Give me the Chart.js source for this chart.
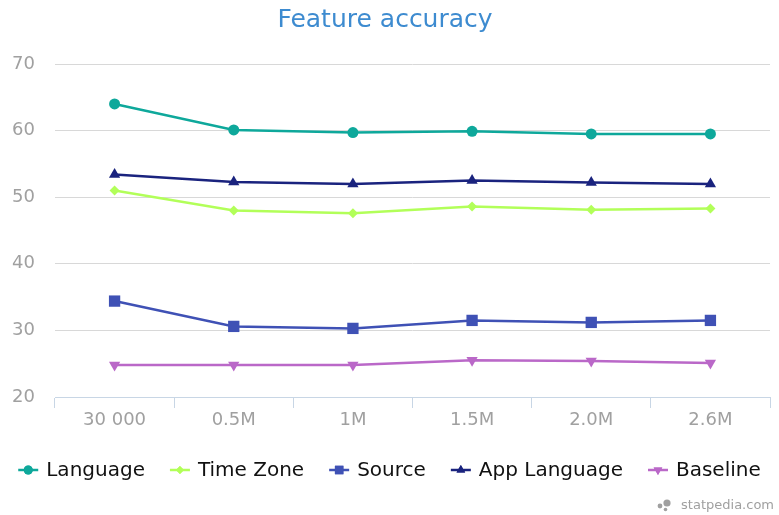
<!DOCTYPE html>
<html>
<head>
<meta charset="utf-8">
<script src="https://cdn.jsdelivr.net/npm/chart.js@4"></script>
<style>
  html, body { margin: 0; padding: 0; background: #ffffff; }
  #wrap { width: 779px; height: 515px; }
</style>
</head>
<body>
<div id="wrap"><canvas id="c" width="779" height="515"></canvas></div>
<script>
const categories = ['30 000', '0.5M', '1M', '1.5M', '2.0M', '2.6M'];
const seriesNames = ['Language', 'Time Zone', 'Source', 'App Language', 'Baseline'];
const language = [64.0, 60.1, 59.7, 59.9, 59.5, 59.5];
const timeZone = [51.0, 48.0, 47.6, 48.6, 48.1, 48.3];
const source = [34.4, 30.6, 30.3, 31.5, 31.2, 31.5];
const appLanguage = [53.4, 52.3, 52.0, 52.5, 52.2, 52.0];
const baseline = [24.8, 24.8, 24.8, 25.5, 25.4, 25.1];
const yTicks = [20, 30, 40, 50, 60, 70];

const FONT = "'DejaVu Sans', Verdana, sans-serif";

const styles = [
  { color: '#0ea89b', pointStyle: 'circle', radius: 5.5, rotation: 0, legendRadius: 4.5 },
  { color: '#b2ff59', pointStyle: 'rectRot', radius: 5, rotation: 0, legendRadius: 4 },
  { color: '#3f51b5', pointStyle: 'rect', radius: 8, rotation: 0, legendRadius: 6 },
  { color: '#1a237e', pointStyle: 'triangle', radius: 6.5, rotation: 0, legendRadius: 5 },
  { color: '#ba68c8', pointStyle: 'triangle', radius: 6.5, rotation: 180, legendRadius: 5 }
];
const seriesData = [language, timeZone, source, appLanguage, baseline];

const datasets = seriesNames.map((name, i) => ({
  label: name,
  data: seriesData[i],
  borderColor: styles[i].color,
  backgroundColor: styles[i].color,
  pointBackgroundColor: styles[i].color,
  pointBorderColor: styles[i].color,
  pointBorderWidth: 0,
  pointStyle: styles[i].pointStyle,
  pointRadius: styles[i].radius,
  pointRotation: styles[i].rotation,
  pointHoverRadius: styles[i].radius,
  borderWidth: 2.5,
  tension: 0,
  fill: false
}));

// Legend drawn from the datasets (line + marker icon, then label)
const lineLegend = {
  id: 'lineLegend',
  afterDraw(chart) {
    const ctx = chart.ctx;
    const iconW = 20, gap = 8, spacing = 25, cy = 470;
    ctx.save();
    ctx.font = '20px ' + FONT;
    const widths = chart.data.datasets.map(ds => ctx.measureText(ds.label).width);
    const total = widths.reduce((a, w) => a + iconW + gap + w, 0) + spacing * (widths.length - 1);
    let x = (chart.width - total) / 2;
    chart.data.datasets.forEach((ds, i) => {
      const st = styles[i];
      ctx.strokeStyle = st.color;
      ctx.lineWidth = 2.5;
      ctx.beginPath(); ctx.moveTo(x, cy); ctx.lineTo(x + iconW, cy); ctx.stroke();
      ctx.fillStyle = st.color;
      Chart.helpers.drawPoint(ctx, { pointStyle: st.pointStyle, radius: st.legendRadius, rotation: st.rotation, borderWidth: 0 }, x + iconW / 2, cy);
      ctx.fill();
      ctx.fillStyle = '#111111';
      ctx.textAlign = 'left';
      ctx.textBaseline = 'middle';
      ctx.fillText(ds.label, x + iconW + gap, cy + 1);
      x += iconW + gap + widths[i] + spacing;
    });
    ctx.restore();
  }
};

const watermark = {
  id: 'watermark',
  afterDraw(chart) {
    const ctx = chart.ctx;
    ctx.save();
    ctx.fillStyle = '#a0a0a0';
    ctx.beginPath(); ctx.arc(667, 503, 3.6, 0, Math.PI * 2); ctx.fill();
    ctx.beginPath(); ctx.arc(660, 506, 2.4, 0, Math.PI * 2); ctx.fill();
    ctx.beginPath(); ctx.arc(665.5, 509.5, 1.8, 0, Math.PI * 2); ctx.fill();
    ctx.font = '13px ' + FONT;
    ctx.textAlign = 'right';
    ctx.textBaseline = 'middle';
    ctx.fillText('statpedia.com', 774, 506);
    ctx.restore();
  }
};

new Chart(document.getElementById('c'), {
  type: 'line',
  data: { labels: categories, datasets },
  plugins: [lineLegend, watermark],
  options: {
    responsive: false,
    animation: false,
    layout: { padding: { left: 0, right: 9, top: 0, bottom: 72 } },
    plugins: {
      title: {
        display: true,
        text: 'Feature accuracy',
        color: '#3d8bd0',
        font: { family: FONT, size: 25, weight: 'normal' },
        padding: { top: 5, bottom: 29 }
      },
      legend: { display: false },
      tooltip: { enabled: false }
    },
    scales: {
      x: {
        offset: true,
        grid: {
          offset: true,
          drawOnChartArea: false,
          drawTicks: true,
          tickLength: 11,
          color: '#c8d6e5',
          lineWidth: 1
        },
        border: { display: true, color: '#c8d6e5', width: 1 },
        ticks: {
          color: '#a0a0a0',
          font: { family: FONT, size: 18 },
          padding: 2,
          maxRotation: 0
        },
        afterFit(scale) { scale.height = 46; }
      },
      y: {
        min: 20,
        max: 70,
        afterBuildTicks(scale) { scale.ticks = yTicks.map(v => ({ value: v })); },
        grid: { color: '#d8d8d8', lineWidth: 1, drawTicks: false },
        border: { display: false },
        ticks: {
          color: '#a0a0a0',
          font: { family: FONT, size: 18 },
          padding: 20
        },
        afterFit(scale) { scale.width = 55; }
      }
    }
  }
});
</script>
</body>
</html>
